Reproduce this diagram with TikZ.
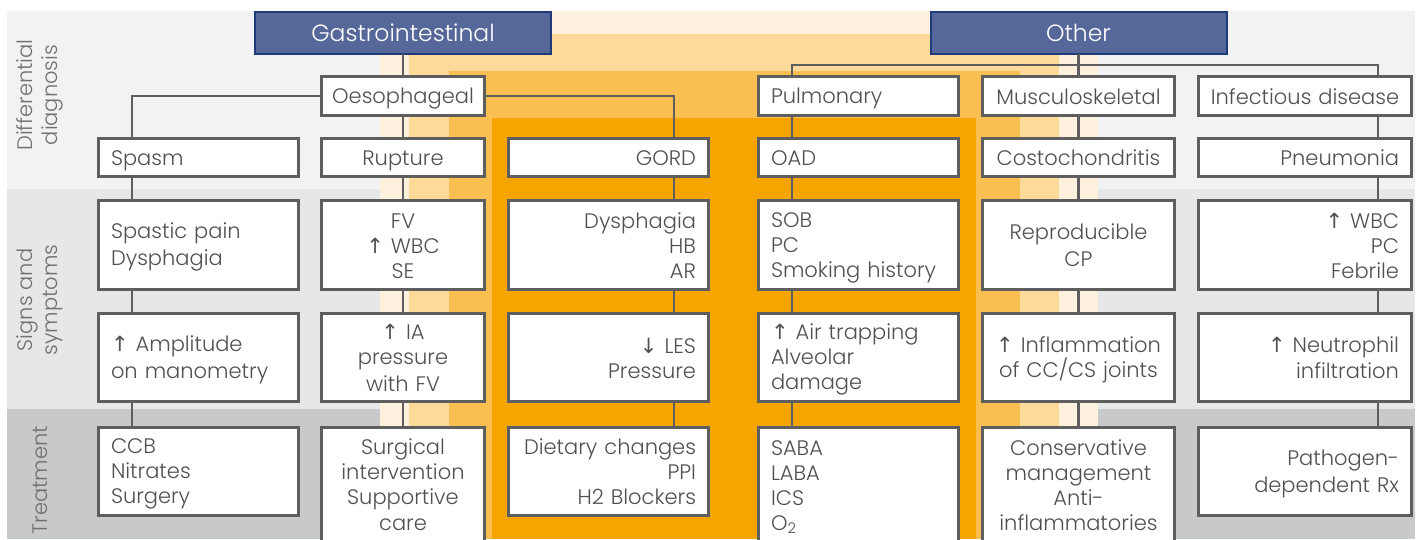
\documentclass[tikz,border=0pt]{standalone}
\usepackage{fontspec}
\setmainfont{Poppins}[UprightFont=* Light]
\newfontfamily\arrfont{DejaVu Sans}
\usetikzlibrary{calc}
\definecolor{bgA}{HTML}{F1F2F4}
\definecolor{bgB}{HTML}{E6E7E9}
\definecolor{bgC}{HTML}{C8C9CB}
\definecolor{orA}{HTML}{FDF1DE}
\definecolor{orB}{HTML}{FDDA9A}
\definecolor{orC}{HTML}{F9BF50}
\definecolor{orD}{HTML}{F6A500}
\definecolor{bluefill}{HTML}{56689A}
\definecolor{blueline}{HTML}{1F3A78}
\definecolor{boxline}{HTML}{5E5E5E}
\definecolor{txt}{HTML}{505050}
\definecolor{sidetxt}{HTML}{707070}
\newcommand\up{{\arrfont\char"2191}}
\newcommand\down{{\arrfont\char"2193}}
\newcommand\bxfont{\fontsize{21}{25}\selectfont}
\newcommand\topfont{\fontsize{23.5}{28}\selectfont}
\newcommand\mystrut{\rule[-4.5pt]{0pt}{25pt}}
\newcommand\bx[8]{%
  \pgfmathsetmacro\bxw{#3-#2-2.6}%
  \pgfmathsetmacro\bxh{#5-#4-2.6}%
  \pgfmathsetmacro\bxt{#3-#2-#7}%
  \pgfmathsetmacro\bxx{(#2+#3)/2}%
  \pgfmathsetmacro\bxy{(#4+#5)/2}%
  \node[box,minimum width=\bxw pt,minimum height=\bxh pt,text width=\bxt pt,align=#6] (#1) at (\bxx,\bxy) {\mystrut#8\mystrut};}
\begin{document}
\begin{tikzpicture}[x=1pt,y=-1pt,
  box/.style={draw=boxline,line width=2.6pt,fill=white,text=txt,inner sep=0pt,outer sep=0pt,font=\bxfont},
  topbox/.style={draw=blueline,line width=2pt,fill=bluefill,text=white,inner sep=0pt,outer sep=0pt,font=\topfont,minimum width=296pt,minimum height=42pt},
  ln/.style={draw=boxline,line width=2.6pt},
  side/.style={text=sidetxt,font=\bxfont,rotate=90,align=center,inner sep=0pt}]
\useasboundingbox (0,0) rectangle (1418,539);
\clip (0,0) rectangle (1418,539);
% background bands
\fill[bgA] (7,11) rectangle (1415,189);
\fill[bgB] (7,189) rectangle (1415,409);
\fill[bgC] (7,409) rectangle (1415,539);
\fill[orA] (380,11) rectangle (1098,539);
\fill[orB] (409,34) rectangle (1059,539);
\fill[orC] (449,71) rectangle (1020,539);
\fill[orD] (492,118) rectangle (976,539);
% side labels
\node[side] (lab1) at (40,95) {Differential\\diagnosis};
\node[side] (lab2) at (40,300) {Signs and\\symptoms};
\node[side] (lab3) at (40,480) {Treatment};
% connector columns
\coordinate (k1) at (132,0);
\coordinate (k2) at (403,0);
\coordinate (k3) at (674,0);
\coordinate (k4) at (792,0);
\coordinate (k5) at (1078.5,0);
\coordinate (k6) at (1378,0);
\coordinate (hb) at (0,65);
% top boxes
\node[topbox] (gi) at (403,33) {Gastrointestinal};
\node[topbox] (oth) at (1078.5,33) {Other};
% row 1
\bx{oes}{320}{486}{75}{117}{center}{8}{Oesophageal}
\bx{pul}{757}{960}{75}{117}{left}{28}{Pulmonary}
\bx{mus}{981}{1176}{75}{117}{center}{8}{Musculoskeletal}
\bx{inf}{1197}{1413}{75}{117}{center}{8}{Infectious~disease}
% row 2
\bx{spa}{97}{300}{137}{178}{left}{28}{Spasm}
\bx{rup}{320}{486}{137}{178}{center}{8}{Rupture}
\bx{gord}{507}{710}{137}{178}{right}{28}{GORD}
\bx{oad}{757}{960}{137}{178}{left}{28}{OAD}
\bx{cos}{981}{1176}{137}{178}{center}{8}{Costochondritis}
\bx{pne}{1197}{1413}{137}{178}{right}{28}{Pneumonia}
% row 3
\bx{s1}{97}{300}{199}{291}{left}{28}{Spastic~pain\\Dysphagia}
\bx{s2}{320}{486}{199}{291}{center}{8}{FV\\\up\ WBC\\SE}
\bx{s3}{507}{710}{199}{291}{right}{28}{Dysphagia\\HB\\AR}
\bx{s4}{757}{960}{199}{291}{left}{28}{SOB\\PC\\Smoking~history}
\bx{s5}{981}{1176}{199}{291}{center}{8}{Reproducible\\CP}
\bx{s6}{1197}{1413}{199}{291}{right}{28}{\up\ WBC\\PC\\Febrile}
% row 4
\bx{m1}{97}{300}{312}{403}{left}{28}{\up\ Amplitude\\on~manometry}
\bx{m2}{320}{486}{312}{403}{center}{8}{\up\ IA\\pressure\\with~FV}
\bx{m3}{507}{710}{312}{403}{right}{28}{\down\ LES\\Pressure}
\bx{m4}{757}{960}{312}{403}{left}{28}{\up\ Air~trapping\\Alveolar\\damage}
\bx{m5}{981}{1176}{312}{403}{center}{8}{\up\ Inflammation\\of~CC/CS~joints}
\bx{m6}{1197}{1413}{312}{403}{right}{28}{\up\ Neutrophil\\infiltration}
% row 5
\bx{t1}{97}{300}{426}{517}{left}{28}{CCB\\Nitrates\\Surgery}
\bx{t2}{320}{486}{426}{543}{center}{8}{Surgical\\intervention\\Supportive\\care}
\bx{t3}{507}{710}{426}{517}{right}{28}{Dietary~changes\\PPI\\H2~Blockers}
\bx{t4}{757}{960}{426}{543}{left}{28}{SABA\\LABA\\ICS\\O\textsubscript{2}}
\bx{t5}{981}{1176}{426}{543}{center}{8}{Conservative\\management\\Anti-\\inflammatories}
\bx{t6}{1197}{1413}{426}{517}{right}{28}{Pathogen-\\dependent~Rx}
% connectors
\draw[ln] (gi.south) -- (oes.north);
\draw[ln] (oes.west) -| (k1 |- spa.north);
\draw[ln] (oes.east) -| (k3 |- gord.north);
\draw[ln] (oes.south) -- (rup.north);
\draw[ln] (oth.south) -- (mus.north);
\draw[ln] (k4 |- pul.north) |- (k6 |- hb) -- (k6 |- inf.north);
\draw[ln] (k4 |- pul.south) -- (k4 |- oad.north);
\draw[ln] (mus.south) -- (cos.north);
\draw[ln] (k6 |- inf.south) -- (k6 |- pne.north);
\foreach \k/\a/\b/\c/\d in {k1/spa/s1/m1/t1, k2/rup/s2/m2/t2, k3/gord/s3/m3/t3, k4/oad/s4/m4/t4, k5/cos/s5/m5/t5, k6/pne/s6/m6/t6}{
  \draw[ln] (\k |- \a.south) -- (\k |- \b.north);
  \draw[ln] (\k |- \b.south) -- (\k |- \c.north);
  \draw[ln] (\k |- \c.south) -- (\k |- \d.north);
}
\end{tikzpicture}
\end{document}
